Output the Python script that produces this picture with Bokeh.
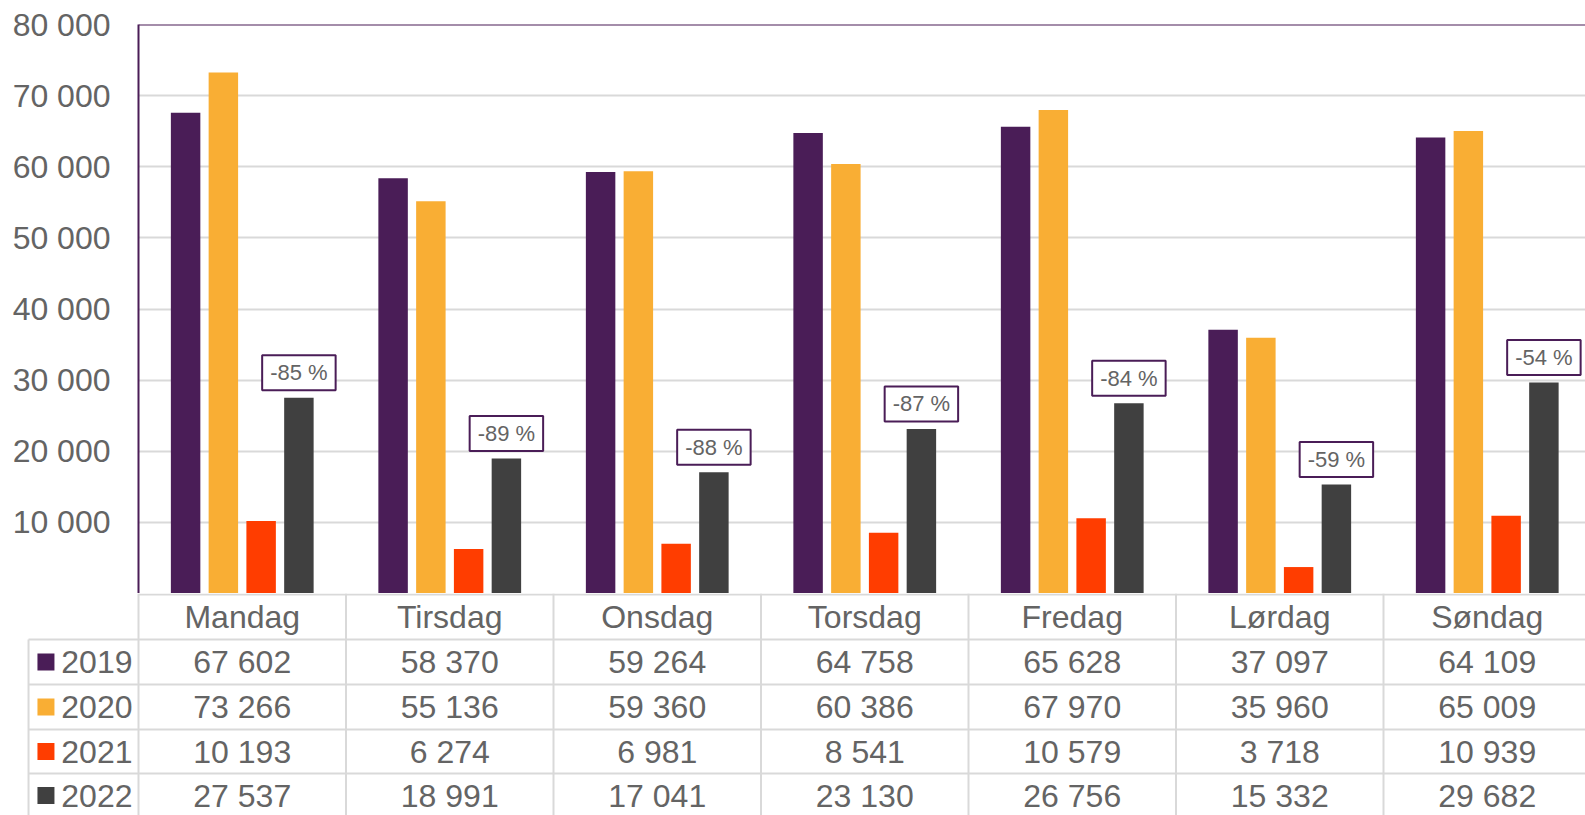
from bokeh.plotting import figure
from bokeh.models import Range1d, FixedTicker, ColumnDataSource, Span, Label
from bokeh.embed import file_html
from bokeh.resources import INLINE
from bokeh.core.properties import value

# ---------------- data ----------------
days = ["Mandag", "Tirsdag", "Onsdag", "Torsdag", "Fredag", "Lørdag", "Søndag"]
years = ["2019", "2020", "2021", "2022"]
v2019 = [67602, 58370, 59264, 64758, 65628, 37097, 64109]
v2020 = [73266, 55136, 59360, 60386, 67970, 35960, 65009]
v2021 = [10193, 6274, 6981, 8541, 10579, 3718, 10939]
v2022 = [27537, 18991, 17041, 23130, 26756, 15332, 29682]
change_labels = ["-85 %", "-89 %", "-88 %", "-87 %", "-84 %", "-59 %", "-54 %"]
y_ticks = [10000, 20000, 30000, 40000, 50000, 60000, 70000, 80000]

series = [v2019, v2020, v2021, v2022]
colors = ["#4A1D57", "#F9AE34", "#FF3D00", "#404040"]

FONT = "Liberation Sans"
TXT = "#646464"
GRID = "#D9D9D9"
PURPLE = "#4A1D57"
FS = "32px"


def fmt(n):
    return f"{n:,}".replace(",", " ")


W = 1585
PPU = 207.5          # pixels per category
CH_LEFT = 138        # chart frame left (figure px)
TB_LEFT = 24         # table frame left (figure px)
chart_units = (W - CH_LEFT) / PPU

# ---------------- chart ----------------
p = figure(width=W, height=593, output_backend="svg", toolbar_location=None,
           x_range=Range1d(0, chart_units), y_range=Range1d(0, 80000),
           x_axis_location=None, min_border_left=CH_LEFT, min_border_right=0,
           min_border_top=24, min_border_bottom=0, tools="")
p.outline_line_color = None
p.background_fill_color = "white"
p.border_fill_color = "white"
p.xgrid.grid_line_color = None
p.ygrid.ticker = FixedTicker(ticks=y_ticks)
p.ygrid.grid_line_color = GRID
p.ygrid.grid_line_width = 2

ax = p.yaxis[0]
ax.ticker = FixedTicker(ticks=y_ticks)
ax.major_label_overrides = {t: fmt(t) for t in y_ticks}
ax.major_label_text_font = FONT
ax.major_label_text_font_size = FS
ax.major_label_text_color = TXT
ax.major_tick_line_color = None
ax.minor_tick_line_color = None
ax.major_tick_out = 0
ax.major_tick_in = 0
ax.major_label_standoff = 28
ax.axis_line_color = PURPLE
ax.axis_line_width = 2

offsets = [-0.273, -0.091, 0.091, 0.273]
bar_w = 0.142
for j, vals in enumerate(series):
    src = ColumnDataSource(dict(x=[i + 0.5 + offsets[j] for i in range(len(days))], top=vals))
    p.vbar(x="x", top="top", width=bar_w, source=src, fill_color=colors[j], line_color=None)

p.add_layout(Span(location=80000, dimension="width", line_color=PURPLE, line_width=2))

for i, (lab, v) in enumerate(zip(change_labels, v2022)):
    p.add_layout(Label(x=i + 0.5 + offsets[3], y=v, text=lab, y_offset=25,
                       text_align="center", text_baseline="middle",
                       text_font=FONT, text_font_size="22px", text_color=TXT,
                       background_fill_color="white", border_line_color=PURPLE,
                       border_line_width=2, padding=(8, 5)))

# ---------------- data table ----------------
TH = 815 - 593
t = figure(width=W, height=TH, output_backend="svg", toolbar_location=None,
           x_range=Range1d(-(CH_LEFT - TB_LEFT) / PPU, chart_units),
           y_range=Range1d(TH, 0), x_axis_location=None, y_axis_location=None,
           min_border_left=TB_LEFT, min_border_right=0, min_border_top=0,
           min_border_bottom=0, tools="")
t.outline_line_color = None
t.grid.grid_line_color = None
t.background_fill_color = "white"
t.border_fill_color = "white"

row_edges = [1, 46, 91, 136, 180]
row_centers = [23, 68.5, 113.5, 158, 202]
leg_left = -0.53
n = len(days)

# horizontal lines
hx0 = [0] + [leg_left] * 4
t.segment(x0=hx0, y0=row_edges, x1=[n] * 5, y1=row_edges, line_color=GRID, line_width=2)
# vertical lines
vx = [leg_left] + list(range(n))
vy0 = [row_edges[1]] + [0] * n
t.segment(x0=vx, y0=vy0, x1=vx, y1=[TH] * len(vx), line_color=GRID, line_width=2)

# header
t.text(x=[i + 0.5 for i in range(n)], y=[row_centers[0]] * n, text=days,
       text_font=value(FONT), text_font_size=FS, text_color=TXT,
       text_align="center", text_baseline="middle")

for j, vals in enumerate(series):
    yc = row_centers[j + 1]
    t.text(x=[i + 0.5 for i in range(n)], y=[yc] * n, text=[fmt(v) for v in vals],
           text_font=value(FONT), text_font_size=FS, text_color=TXT,
           text_align="center", text_baseline="middle")
    t.rect(x=[-0.446], y=[yc], width=17, height=17, width_units="screen",
           height_units="screen", fill_color=colors[j], line_color=None)
    t.text(x=[-0.372], y=[yc], text=[years[j]], text_font=value(FONT),
           text_font_size=FS, text_color=TXT, text_align="left",
           text_baseline="middle")

open("out.html", "w").write(file_html([p, t], INLINE))
